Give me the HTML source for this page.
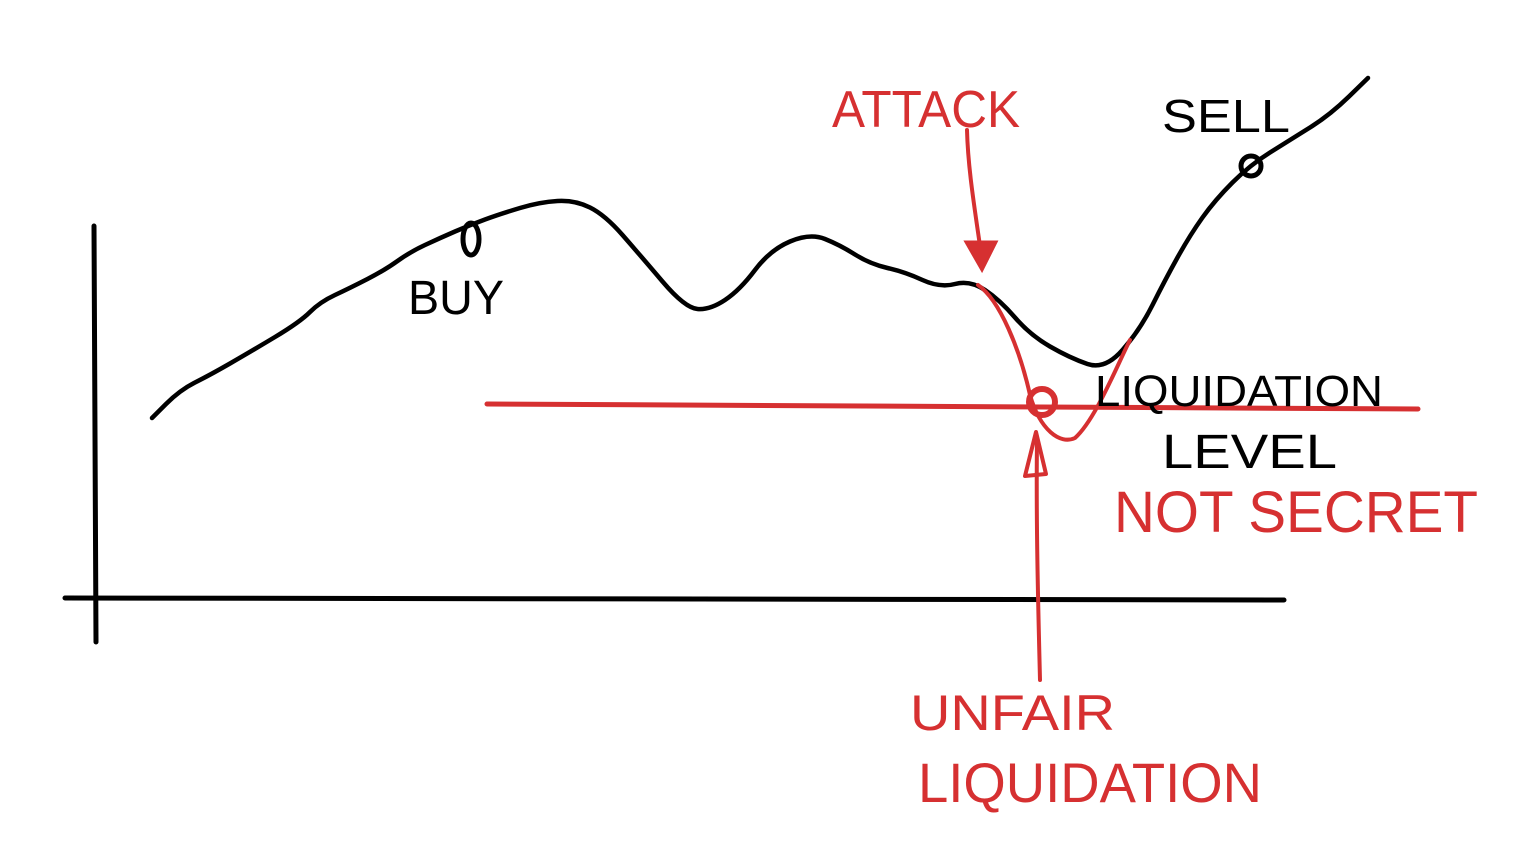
<!DOCTYPE html>
<html>
<head>
<meta charset="utf-8">
<style>
  html,body{margin:0;padding:0;background:#fff;}
  svg{display:block;}
  text{font-family:"Liberation Sans",sans-serif;}
</style>
</head>
<body>
<svg id="chart" width="1534" height="864" viewBox="0 0 1534 864">
  <line x1="94" y1="226" x2="96" y2="642" stroke="#000" stroke-width="5" stroke-linecap="round"/>
  <line x1="65" y1="598" x2="1284" y2="600" stroke="#000" stroke-width="5" stroke-linecap="round"/>
  <g id="series"></g>
  <line x1="487" y1="404" x2="1418" y2="409" stroke="#d63031" stroke-width="5" stroke-linecap="round"/>
  <path d="M978,285 C1000,300 1020,350 1030,395 C1040,430 1060,445 1075,438 C1095,420 1115,370 1130,340" fill="none" stroke="#d63031" stroke-width="4" stroke-linecap="round"/>
  <circle cx="1042" cy="402" r="13" fill="none" stroke="#d63031" stroke-width="6"/>
  <path d="M967,130 C968,170 975,210 982,260" fill="none" stroke="#d63031" stroke-width="4" stroke-linecap="round"/>
  <path d="M966,242 L996,242 L982,270 Z" fill="#d63031" stroke="#d63031" stroke-width="3"/>
  <path d="M1040,680 C1038,600 1036,520 1037,440" fill="none" stroke="#d63031" stroke-width="4" stroke-linecap="round"/>
  <path d="M1025,476 L1046,474 L1036,432 Z" fill="none" stroke="#d63031" stroke-width="4" stroke-linejoin="round"/>
  <ellipse cx="471" cy="239" rx="8" ry="16" fill="none" stroke="#000" stroke-width="5"/>
  <ellipse cx="1251" cy="166" rx="10" ry="10" fill="none" stroke="#000" stroke-width="5"/>
  <text x="408" y="314" font-size="48" fill="#000" textLength="96" lengthAdjust="spacingAndGlyphs">BUY</text>
  <text x="1162" y="132" font-size="46" fill="#000" textLength="128" lengthAdjust="spacingAndGlyphs">SELL</text>
  <text x="832" y="127" font-size="52" fill="#d63031" textLength="188" lengthAdjust="spacingAndGlyphs">ATTACK</text>
  <text x="1095" y="406" font-size="44" fill="#000" textLength="288" lengthAdjust="spacingAndGlyphs">LIQUIDATION</text>
  <text x="1162" y="468" font-size="48" fill="#000" textLength="175" lengthAdjust="spacingAndGlyphs">LEVEL</text>
  <text x="1114" y="532" font-size="58" fill="#d63031" textLength="364" lengthAdjust="spacingAndGlyphs">NOT   SECRET</text>
  <text x="910" y="730" font-size="50" fill="#d63031" textLength="205" lengthAdjust="spacingAndGlyphs">UNFAIR</text>
  <text x="918" y="802" font-size="56" fill="#d63031" textLength="344" lengthAdjust="spacingAndGlyphs">LIQUIDATION</text>
</svg>
<script>
const times = [5.7, 8.5, 11.5, 15.5, 20.5, 22.5, 25.5, 29, 31.5, 34.5, 37.5, 40.5, 44.5, 48, 51, 54.5, 59, 61.5, 64.5, 67.5, 71.5, 74.5, 77.5, 81, 84.5, 87.5, 90.5, 93.5, 97.5, 101, 104.5, 107, 109.5, 112, 115.5, 119.5, 123.5, 127.3];
const prices = [18.2, 21, 22.5, 24.8, 27.8, 29.8, 31.2, 33, 34.8, 36.2, 37.5, 38.6, 39.8, 40, 38.5, 34.5, 29.2, 29, 31, 35, 36.7, 35.5, 33.6, 32.8, 31.2, 32, 30, 26.5, 24.2, 23, 27, 32, 36.5, 40, 43.5, 46, 48.5, 52.2];
function xScale(t){ return 95 + t * 10; }
function yScale(p){ return 600 - p * 10; }
const g = document.getElementById('series');
let d = '';
for (let i = 0; i < times.length; i++) {
  const x = xScale(times[i]), y = yScale(prices[i]);
  if (i === 0) { d += 'M' + x + ',' + y; continue; }
  const px = xScale(times[i-1]), py = yScale(prices[i-1]);
  const mx = (px + x) / 2, my = (py + y) / 2;
  d += ' Q' + px + ',' + py + ' ' + mx + ',' + my;
}
d += ' L' + xScale(times[times.length-1]) + ',' + yScale(prices[prices.length-1]);
const path = document.createElementNS('http://www.w3.org/2000/svg', 'path');
path.setAttribute('d', d);
path.setAttribute('fill', 'none');
path.setAttribute('stroke', '#000');
path.setAttribute('stroke-width', '4.5');
path.setAttribute('stroke-linecap', 'round');
path.setAttribute('stroke-linejoin', 'round');


g.appendChild(path);
</script>
</body>
</html>
